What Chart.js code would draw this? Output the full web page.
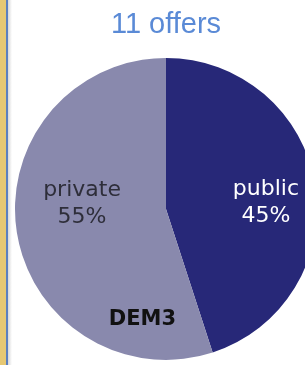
<!DOCTYPE html>
<html>
<head>
<meta charset="utf-8">
<script src="https://cdn.jsdelivr.net/npm/chart.js@4"></script>
<style>
  html, body { margin:0; padding:0; background:#fff; overflow:hidden; width:305px; height:365px; }
  #wrap { position:absolute; left:0; top:0; width:338px; height:365px; }
  .edgeY { position:absolute; left:0; top:0; width:6px; height:365px; background:#e6c874; z-index:2; }
  .edgeB { position:absolute; left:6px; top:0; width:2px; height:365px; background:#5b80c0; z-index:2; }
  .edgeS { position:absolute; left:8px; top:0; width:4px; height:365px; background:linear-gradient(to right,#d8d8d8,#ffffff); z-index:2; }
</style>
</head>
<body>
<div class="edgeY"></div><div class="edgeB"></div><div class="edgeS"></div>
<div id="wrap"><canvas id="c" width="338" height="365"></canvas></div>
<script>
const categories = ['public', 'private'];
const shares = [45, 55];
const titleText = '11 offers';
const chartName = 'DEM3';

const sliceColors = ['#272878', '#8989ad'];
const labelColors = ['#ffffff', '#2e2e3a'];

const sliceLabels = {
  id: 'sliceLabels',
  afterDatasetsDraw(chart, args, opts) {
    const ctx = chart.ctx;
    const meta = chart.getDatasetMeta(0);
    const total = shares.reduce((a, b) => a + b, 0);
    let cx = 0, cy = 0, r = 0;
    ctx.save();
    ctx.textAlign = 'center';
    ctx.textBaseline = 'alphabetic';
    meta.data.forEach((arc, i) => {
      const p = arc.getProps(['x', 'y', 'startAngle', 'endAngle', 'outerRadius'], true);
      cx = p.x; cy = p.y; r = p.outerRadius;
      const mid = (p.startAngle + p.endAngle) / 2 + opts.angleShift * Math.PI / 180;
      const d = p.outerRadius * opts.radial[i];
      const lx = p.x + Math.cos(mid) * d;
      const ly = p.y + Math.sin(mid) * d;
      ctx.fillStyle = labelColors[i];
      ctx.font = '22px "DejaVu Sans", Verdana, sans-serif';
      ctx.fillText(categories[i], lx, ly - opts.lineGap / 2);
      ctx.fillText(Math.round(shares[i] / total * 100) + '%', lx, ly + opts.lineGap / 2);
    });
    ctx.fillStyle = '#111111';
    ctx.font = 'bold 21px "DejaVu Sans", Verdana, sans-serif';
    ctx.fillText(chartName, cx - 0.156 * r, cy + 0.768 * r);
    ctx.restore();
  }
};

new Chart(document.getElementById('c'), {
  type: 'pie',
  data: {
    labels: categories,
    datasets: [{
      data: shares,
      backgroundColor: sliceColors,
      borderWidth: 0,
      hoverOffset: 0
    }]
  },
  options: {
    responsive: false,
    animation: false,
    events: [],
    layout: { padding: { left: 15, right: 21, top: 0, bottom: 5 } },
    plugins: {
      legend: { display: false },
      tooltip: { enabled: false },
      title: {
        display: true,
        text: titleText,
        color: '#5a8ad6',
        font: { family: '"Liberation Sans", Arial, sans-serif', size: 29, weight: 'normal', lineHeight: 1.2 },
        padding: { top: 8, bottom: 15 }
      },
      sliceLabels: { radial: [0.662, 0.556], angleShift: 8.5, lineGap: 27 }
    }
  },
  plugins: [sliceLabels]
});
</script>
</body>
</html>
